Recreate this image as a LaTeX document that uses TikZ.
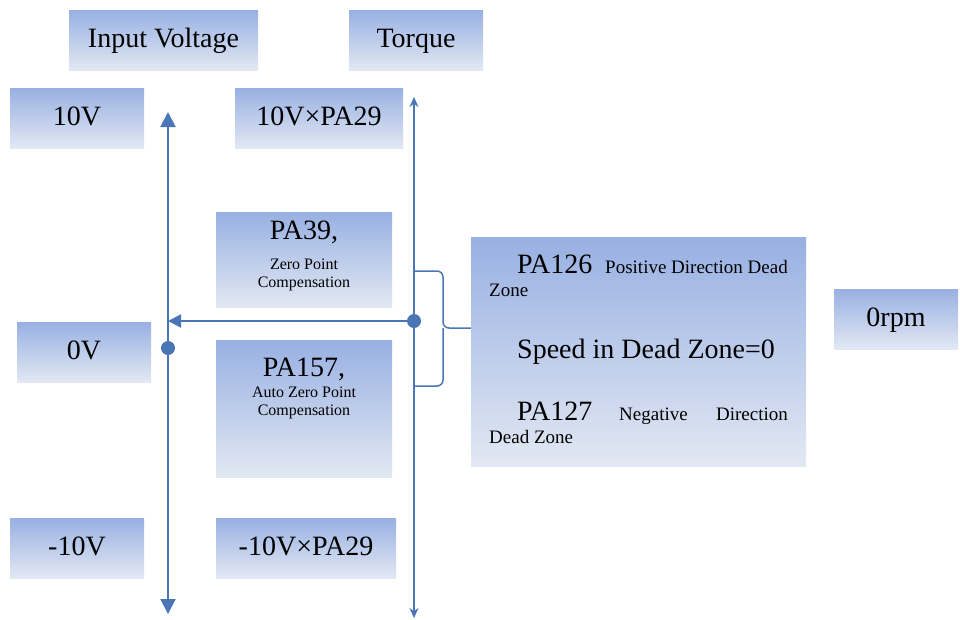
\documentclass[tikz,border=0pt]{standalone}
\usepackage{fontspec}
\setmainfont{Liberation Serif}
\usetikzlibrary{arrows.meta}

\definecolor{axisblue}{RGB}{74,118,182}
\definecolor{boxtop}{RGB}{152,176,226}
\definecolor{boxbot}{RGB}{226,232,243}

\tikzset{
  panel/.style={top color=boxtop, bottom color=boxbot, draw=none, inner sep=0pt},
  big/.style={font=\fontsize{28}{30}\selectfont, inner sep=0pt},
  mid/.style={font=\fontsize{19}{21}\selectfont, inner sep=0pt},
  small/.style={font=\fontsize{16}{18}\selectfont, inner sep=0pt},
  oneline/.style={panel, big, text height=20pt, text depth=6pt},
  axis/.style={draw=axisblue, line width=2pt},
  thinaxis/.style={draw=axisblue, line width=1.5pt},
  dot/.style={circle, fill=axisblue, inner sep=0pt, minimum size=14pt},
}

\begin{document}
\begin{tikzpicture}[x=1pt,y=-1pt]
  \useasboundingbox (0,0) rectangle (960,619);

  % headings
  \node[oneline, minimum width=189pt, minimum height=60pt] (vin) at (163.5,40) {Input Voltage};
  \node[oneline, minimum width=134pt, minimum height=60pt] (torque) at (416,40) {Torque};

  % voltage levels
  \node[oneline, minimum width=134pt, minimum height=60pt] (v10) at (77,118) {10V};
  \node[oneline, minimum width=134pt, minimum height=60pt] (v0) at (84,352) {0V};
  \node[oneline, minimum width=134pt, minimum height=60pt] (vm10) at (77,548) {-10V};

  % torque levels
  \node[oneline, minimum width=168pt, minimum height=60pt] (t10) at (319,118) {10V×PA29};
  \node[oneline, minimum width=180pt, minimum height=60pt] (tm10) at (306,548) {-10V×PA29};

  % compensation boxes
  \node[panel, minimum width=176pt, minimum height=95pt] (pa39) at (304,259.5) {};
  \node[big, anchor=base] (pa39a) at (304,239) {PA39,};
  \node[small, anchor=base] (pa39b) at (304,269) {Zero Point};
  \node[small, anchor=base] (pa39c) at (304,287) {Compensation};

  \node[panel, minimum width=176pt, minimum height=137pt] (pa157) at (304,408.5) {};
  \node[big, anchor=base] (pa157a) at (304,376) {PA157,};
  \node[small, anchor=base] (pa157b) at (304,397) {Auto Zero Point};
  \node[small, anchor=base] (pa157c) at (304,415) {Compensation};

  % dead zone box
  \node[panel, minimum width=335pt, minimum height=229pt] (zone) at (638.5,351.5) {};
  \node[big, anchor=base west] (pa126) at (517,273) {PA126};
  \node[mid, anchor=base east] (pa126d) at (788,273) {Positive Direction Dead};
  \node[mid, anchor=base west] (pa126z) at (489,296) {Zone};
  \node[big, anchor=base west] (speed) at (517,358) {Speed in Dead Zone=0};
  \node[big, anchor=base west] (pa127) at (517,420) {PA127};
  \node[mid, anchor=base west] (pa127n) at (619,420) {Negative};
  \node[mid, anchor=base east] (pa127d) at (788,420) {Direction};
  \node[mid, anchor=base west] (pa127z) at (489,443) {Dead Zone};

  \node[oneline, minimum width=124pt, minimum height=60pt] (rpm) at (896,319) {0rpm};

  % axes
  \coordinate (vtop) at (168,112);
  \coordinate (vbot) at (168,614);
  \coordinate (ttop) at (414,97);
  \coordinate (tbot) at (414,618);
  \draw[axis, {Triangle[length=15pt,width=15pt]}-{Triangle[length=15pt,width=15pt]}] (vtop) -- (vbot);
  \draw[thinaxis, {Stealth[length=10pt,width=9pt]}-{Stealth[length=10pt,width=9pt]}] (ttop) -- (tbot);

  % zero point link
  \node[dot] (tdot) at (414,321) {};
  \node[dot] (vdot) at (168,348) {};
  \draw[axis, -{Triangle[length=13pt,width=13pt]}] (tdot.center) -- (tdot -| vtop);

  % brace to dead zone
  \coordinate (btop) at (414,271);
  \coordinate (bbot) at (414,386);
  \coordinate (bcusp) at (443,328);
  \draw[thinaxis, rounded corners=6pt] (btop) -| (bcusp) -- (bcusp -| zone.west);
  \draw[thinaxis, rounded corners=6pt] (bcusp) |- (bbot);
\end{tikzpicture}
\end{document}
